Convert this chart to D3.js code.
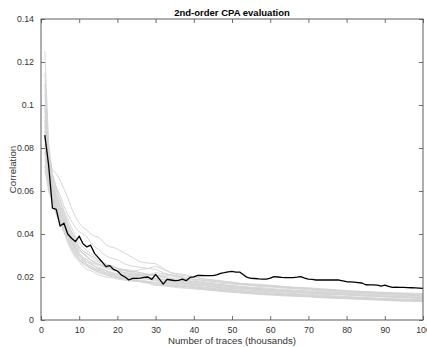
<!DOCTYPE html>
<html>
<head>
<meta charset="utf-8">
<script src="https://cdn.jsdelivr.net/npm/d3@7"></script>
<style>
  html, body { margin: 0; padding: 0; background: #fff; }
  svg { display: block; font-family: "Liberation Sans", Arial, Helvetica, sans-serif; }
</style>
</head>
<body>
<svg id="chart" width="427" height="347"></svg>
<script>
// Number of traces (thousands) at which the target key byte is evaluated
const traceCounts = d3.range(1, 101);

// Correlation of the correct key hypothesis
const correctKey = [
  0.086, 0.072, 0.052, 0.0515, 0.0437, 0.045, 0.040, 0.038, 0.0365, 0.039,
  0.0355, 0.034, 0.0348, 0.031, 0.029, 0.027, 0.0248, 0.0253, 0.0235, 0.0228,
  0.021, 0.020, 0.0186, 0.0194, 0.0194, 0.0195, 0.0198, 0.020, 0.0189, 0.0212,
  0.019, 0.0167, 0.0189, 0.0186, 0.0183, 0.0184, 0.019, 0.0183, 0.0198, 0.0201,
  0.0208, 0.0207, 0.0206, 0.0206, 0.0206, 0.021, 0.0217, 0.022, 0.0224, 0.0226,
  0.0223, 0.0223, 0.021, 0.0198, 0.0194, 0.0193, 0.0191, 0.019, 0.019, 0.0195,
  0.0202, 0.0200, 0.0198, 0.0197, 0.0197, 0.0197, 0.0199, 0.0202, 0.0195, 0.019,
  0.0189, 0.0186, 0.0186, 0.0187, 0.0186, 0.0186, 0.0186, 0.0186, 0.0182, 0.0178,
  0.0177, 0.0176, 0.0174, 0.0172, 0.0164, 0.0163, 0.0163, 0.0162, 0.0158, 0.0162,
  0.0156, 0.0152, 0.0153, 0.0152, 0.0152, 0.0151, 0.015, 0.0149, 0.0148, 0.0147
];

// Trace counts at which the wrong key hypotheses are sampled
const wrongTraceCounts = [
  1, 2, 3, 4, 5, 6, 7, 8, 9, 10,
  11, 12, 13, 14, 15, 16, 17, 18, 19, 20,
  22, 24, 26, 28, 30, 32, 34, 36, 38, 40,
  43, 46, 49, 52, 55, 58, 61, 64, 67, 70,
  73, 76, 79, 82, 85, 88, 91, 94, 97, 100
];

// Correlation of the wrong key hypotheses
const wrongKeys = [
  [0.100,0.074,0.070,0.068,0.065,0.061,0.057,0.052,0.048,0.045, 0.043,0.042,0.040,0.039,0.0385,0.037,0.035,0.034,0.0338,0.033, 0.031,0.029,0.027,0.0265,0.0262,0.024,0.022,0.021,0.0205,0.0198, 0.019,0.0182,0.0178,0.017,0.0165,0.016,0.0158,0.0152,0.015,0.0148, 0.0142,0.014,0.0136,0.0133,0.013,0.0128,0.0125,0.0122,0.012,0.0118],
  [0.125,0.082,0.068,0.062,0.058,0.053,0.049,0.046,0.043,0.041, 0.040,0.0388,0.036,0.034,0.033,0.031,0.030,0.029,0.0285,0.028, 0.026,0.025,0.0245,0.024,0.0235,0.022,0.021,0.0205,0.0195,0.019, 0.0185,0.018,0.0175,0.017,0.0162,0.0158,0.0155,0.015,0.0146,0.0145, 0.014,0.0138,0.0135,0.013,0.0128,0.0126,0.0124,0.0122,0.012,0.0118],
  [0.110,0.076,0.066,0.060,0.055,0.050,0.045,0.041,0.037,0.034, 0.032,0.031,0.030,0.029,0.0275,0.027,0.026,0.0255,0.025,0.024, 0.0235,0.023,0.022,0.0215,0.021,0.0205,0.0195,0.019,0.0185,0.018, 0.0172,0.0165,0.016,0.0155,0.015,0.0145,0.014,0.0138,0.0135,0.013, 0.0128,0.0125,0.012,0.0118,0.0116,0.0114,0.0112,0.011,0.0108,0.0106],
  [0.090,0.070,0.061,0.056,0.051,0.047,0.042,0.038,0.035,0.032, 0.031,0.030,0.028,0.027,0.026,0.0255,0.025,0.024,0.0235,0.023, 0.022,0.021,0.0205,0.020,0.0195,0.019,0.0185,0.018,0.0178,0.017, 0.0165,0.016,0.0155,0.0152,0.0145,0.014,0.0135,0.0132,0.013,0.0126, 0.0122,0.012,0.0118,0.0115,0.0112,0.011,0.0107,0.0104,0.0102,0.010],
  [0.085,0.066,0.058,0.053,0.049,0.045,0.041,0.037,0.034,0.031, 0.029,0.028,0.027,0.026,0.0255,0.025,0.0245,0.024,0.0235,0.0232, 0.023,0.0225,0.0235,0.024,0.025,0.0235,0.022,0.0215,0.021,0.020, 0.019,0.0185,0.0178,0.017,0.0168,0.0165,0.016,0.0155,0.015,0.0145, 0.014,0.0137,0.0134,0.0132,0.013,0.0127,0.0125,0.0122,0.012,0.0118],
  [0.080,0.064,0.057,0.051,0.047,0.043,0.039,0.035,0.032,0.029, 0.0275,0.026,0.025,0.024,0.0235,0.023,0.022,0.0215,0.021,0.0205, 0.020,0.0195,0.0192,0.019,0.0182,0.0178,0.0172,0.017,0.0165,0.016, 0.0152,0.0148,0.0142,0.0138,0.0132,0.013,0.0126,0.0122,0.012,0.0116, 0.0112,0.011,0.0106,0.0104,0.0102,0.010,0.0097,0.0094,0.0092,0.009],
  [0.070,0.060,0.055,0.049,0.045,0.041,0.036,0.032,0.029,0.027, 0.025,0.0235,0.023,0.022,0.021,0.0205,0.020,0.0198,0.0195,0.019, 0.0185,0.018,0.0178,0.0172,0.016,0.0165,0.016,0.0158,0.0155,0.015, 0.0145,0.014,0.0135,0.013,0.0125,0.012,0.0118,0.0115,0.0112,0.011, 0.0106,0.0103,0.010,0.0098,0.0095,0.0093,0.009,0.0088,0.0087,0.0086],
  [0.105,0.078,0.064,0.058,0.053,0.048,0.044,0.040,0.036,0.033, 0.031,0.0295,0.028,0.027,0.026,0.025,0.0245,0.024,0.023,0.0225, 0.022,0.0215,0.021,0.021,0.0205,0.0198,0.019,0.0185,0.018,0.0178, 0.0172,0.0168,0.0162,0.0158,0.0152,0.015,0.0145,0.0142,0.0138,0.0135, 0.0132,0.013,0.0127,0.0125,0.0122,0.012,0.0118,0.0116,0.0114,0.0112],
  [0.095,0.072,0.062,0.055,0.050,0.046,0.041,0.037,0.034,0.031, 0.029,0.028,0.0265,0.025,0.024,0.0235,0.023,0.022,0.0215,0.021, 0.0205,0.020,0.0198,0.0195,0.019,0.0185,0.018,0.0175,0.017,0.0165, 0.016,0.0152,0.0146,0.0142,0.0138,0.0133,0.013,0.0125,0.0122,0.012, 0.0116,0.0113,0.011,0.0108,0.0105,0.0102,0.010,0.0098,0.0096,0.0094],
  [0.088,0.069,0.060,0.054,0.049,0.045,0.040,0.037,0.033,0.030, 0.0285,0.027,0.026,0.025,0.0245,0.024,0.023,0.0225,0.022,0.0215, 0.021,0.0205,0.020,0.0198,0.0192,0.0188,0.0182,0.0178,0.0172,0.0168, 0.016,0.0156,0.0152,0.0148,0.0145,0.014,0.0136,0.0133,0.013,0.0128, 0.0124,0.0122,0.012,0.0117,0.0115,0.0112,0.011,0.0108,0.0105,0.0103],
  [0.075,0.062,0.056,0.050,0.046,0.042,0.038,0.034,0.031,0.028, 0.027,0.0255,0.0245,0.0235,0.023,0.022,0.0215,0.021,0.0208,0.020, 0.0195,0.019,0.0185,0.018,0.0175,0.017,0.0168,0.0165,0.016,0.0155, 0.015,0.0145,0.014,0.0135,0.0132,0.0128,0.0124,0.012,0.0118,0.0115, 0.0112,0.011,0.0108,0.0105,0.0102,0.010,0.0098,0.0095,0.0093,0.0092],
  [0.098,0.074,0.064,0.058,0.053,0.049,0.045,0.041,0.038,0.034, 0.032,0.031,0.0295,0.028,0.027,0.026,0.0255,0.025,0.0245,0.024, 0.023,0.0225,0.022,0.0212,0.0205,0.021,0.0205,0.0198,0.019,0.0185, 0.0178,0.0172,0.0168,0.0165,0.016,0.0155,0.0152,0.0148,0.0145,0.014, 0.0136,0.0133,0.013,0.0128,0.0126,0.0124,0.0122,0.012,0.0118,0.0116],
  [0.082,0.065,0.058,0.052,0.048,0.044,0.039,0.036,0.032,0.029, 0.028,0.026,0.025,0.024,0.0232,0.0225,0.022,0.021,0.0205,0.020, 0.0195,0.0188,0.0182,0.0178,0.0172,0.017,0.0165,0.016,0.0158,0.0152, 0.0148,0.0142,0.0138,0.0132,0.0128,0.0125,0.012,0.0118,0.0115,0.0112, 0.0108,0.0106,0.0104,0.0102,0.010,0.0098,0.0096,0.0094,0.0092,0.009],
  [0.093,0.071,0.063,0.057,0.052,0.047,0.043,0.039,0.035,0.033, 0.031,0.029,0.028,0.0265,0.026,0.025,0.024,0.0235,0.023,0.0228, 0.0215,0.021,0.0208,0.0205,0.021,0.020,0.0192,0.0188,0.0182,0.0175, 0.0168,0.0162,0.0158,0.0152,0.0148,0.0145,0.0142,0.0138,0.0135,0.0132, 0.0128,0.0126,0.0124,0.0122,0.012,0.0118,0.0116,0.0114,0.0112,0.011],
  [0.078,0.063,0.056,0.051,0.046,0.042,0.037,0.033,0.030,0.028, 0.026,0.025,0.024,0.023,0.022,0.0215,0.021,0.0205,0.020,0.0195, 0.019,0.0185,0.018,0.0175,0.0168,0.0162,0.0158,0.0155,0.015,0.0148, 0.0142,0.0138,0.0132,0.0128,0.0124,0.012,0.0118,0.0115,0.0112,0.011, 0.0106,0.0104,0.0102,0.010,0.0098,0.0096,0.0094,0.0092,0.009,0.0088],
  [0.115,0.080,0.067,0.061,0.056,0.051,0.047,0.043,0.039,0.036, 0.034,0.032,0.031,0.0295,0.028,0.027,0.026,0.025,0.0245,0.024, 0.0228,0.022,0.0215,0.021,0.022,0.0215,0.021,0.0202,0.0195,0.019, 0.0182,0.0178,0.0172,0.0168,0.0162,0.016,0.0158,0.0155,0.0152,0.015, 0.0146,0.0142,0.0138,0.0135,0.0132,0.013,0.0128,0.0126,0.0125,0.0124],
  [0.072,0.061,0.055,0.050,0.046,0.041,0.037,0.034,0.030,0.028, 0.0265,0.025,0.024,0.0232,0.0225,0.022,0.021,0.0205,0.020,0.0198, 0.0192,0.0185,0.0178,0.0172,0.0165,0.0158,0.0155,0.015,0.0148,0.0145, 0.014,0.0135,0.013,0.0126,0.0122,0.0118,0.0115,0.0112,0.011,0.0108, 0.0104,0.0102,0.010,0.0098,0.0096,0.0094,0.0092,0.009,0.0088,0.0087],
  [0.086,0.068,0.060,0.054,0.049,0.044,0.040,0.036,0.033,0.030, 0.0285,0.027,0.0262,0.025,0.024,0.0235,0.0228,0.022,0.0215,0.021, 0.0205,0.0198,0.0195,0.019,0.0185,0.0178,0.0175,0.017,0.0168,0.0162, 0.0158,0.0152,0.0148,0.0145,0.014,0.0136,0.0133,0.013,0.0127,0.0124, 0.012,0.0118,0.0116,0.0114,0.0111,0.0109,0.0107,0.0105,0.0103,0.0101]
];

const xTicks = d3.range(0, 101, 10);
const yTicks = [0, 0.02, 0.04, 0.06, 0.08, 0.1, 0.12, 0.14];
const yTickLabels = ["0", "0.02", "0.04", "0.06", "0.08", "0.1", "0.12", "0.14"];

const chartTitle = "2nd-order CPA evaluation";
const xLabel = "Number of traces (thousands)";
const yLabel = "Correlation";

// Plot area bounds
const plotLeft = 41, plotRight = 423, plotTop = 19, plotBottom = 320;
const axisColor = "#4d4d4d";
const textColor = "#333";

const svg = d3.select("#chart");

const x = d3.scaleLinear().domain([0, 100]).range([plotLeft, plotRight]);
const y = d3.scaleLinear().domain([0, 0.14]).range([plotBottom, plotTop]);

svg.append("defs").append("clipPath").attr("id", "plot-clip")
  .append("rect").attr("x", plotLeft).attr("y", plotTop)
  .attr("width", plotRight - plotLeft).attr("height", plotBottom - plotTop);

const plot = svg.append("g").attr("clip-path", "url(#plot-clip)");

const line = d3.line().x(d => x(d[0])).y(d => y(d[1]));

// Wrong hypotheses in light grey
plot.selectAll("path.wrong")
  .data(wrongKeys)
  .join("path")
  .attr("class", "wrong")
  .attr("fill", "none")
  .attr("stroke", "#d2d2d2")
  .attr("stroke-width", 0.9)
  .attr("d", vals => line(vals.map((v, i) => [wrongTraceCounts[i], v])));

// Correct hypothesis in black, on top
plot.append("path")
  .attr("fill", "none")
  .attr("stroke", "#000")
  .attr("stroke-width", 1.3)
  .attr("stroke-linejoin", "round")
  .attr("d", line(correctKey.map((v, i) => [traceCounts[i], v])));

// Axes with inward ticks, mirrored on top and right
const tickLen = 4;
function styleAxis(g) {
  g.select(".domain").remove();
  g.selectAll(".tick line").attr("stroke", axisColor).attr("stroke-width", 0.8);
  g.selectAll(".tick text").attr("fill", textColor).style("font-size", "8.8px");
}

svg.append("g")
  .attr("transform", `translate(0,${plotBottom})`)
  .call(d3.axisBottom(x).tickValues(xTicks).tickSizeInner(-tickLen).tickSizeOuter(0).tickPadding(7))
  .call(styleAxis);

svg.append("g")
  .attr("transform", `translate(0,${plotTop})`)
  .call(d3.axisTop(x).tickValues(xTicks).tickSizeInner(-tickLen).tickSizeOuter(0).tickFormat(""))
  .call(styleAxis);

svg.append("g")
  .attr("transform", `translate(${plotLeft},0)`)
  .call(d3.axisLeft(y).tickValues(yTicks).tickSizeInner(-tickLen).tickSizeOuter(0).tickPadding(7)
    .tickFormat((d, i) => yTickLabels[i]))
  .call(styleAxis);

svg.append("g")
  .attr("transform", `translate(${plotRight},0)`)
  .call(d3.axisRight(y).tickValues(yTicks).tickSizeInner(-tickLen).tickSizeOuter(0).tickFormat(""))
  .call(styleAxis);

// Box
svg.append("rect")
  .attr("x", plotLeft).attr("y", plotTop)
  .attr("width", plotRight - plotLeft).attr("height", plotBottom - plotTop)
  .attr("fill", "none").attr("stroke", axisColor).attr("stroke-width", 0.9);

// Titles
svg.append("text")
  .attr("x", (plotLeft + plotRight) / 2).attr("y", 16)
  .attr("text-anchor", "middle")
  .attr("fill", "#000")
  .style("font-size", "9.5px").style("font-weight", "bold")
  .text(chartTitle);

svg.append("text")
  .attr("x", (plotLeft + plotRight) / 2).attr("y", 344)
  .attr("text-anchor", "middle")
  .attr("fill", textColor)
  .style("font-size", "9.7px")
  .text(xLabel);

svg.append("text")
  .attr("transform", `translate(16,${(plotTop + plotBottom) / 2}) rotate(-90)`)
  .attr("text-anchor", "middle")
  .attr("fill", textColor)
  .style("font-size", "9.7px")
  .text(yLabel);
</script>
</body>
</html>
